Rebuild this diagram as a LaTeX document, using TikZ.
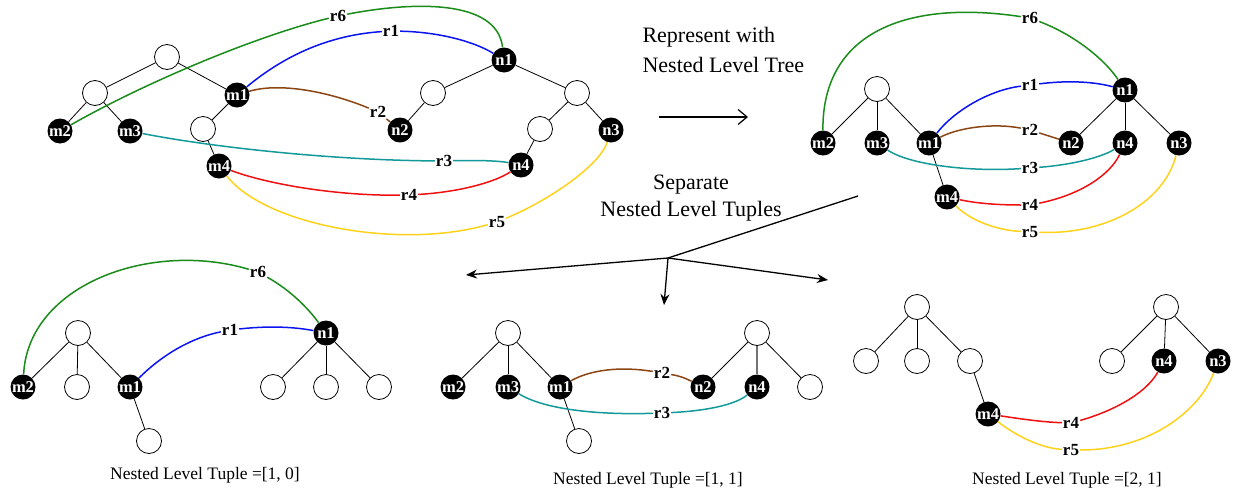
\documentclass[tikz,border=0pt]{standalone}
\usepackage{fontspec}
\setmainfont{Liberation Serif}
\usepackage{tikz}
\usepackage{xcolor}
\usetikzlibrary{arrows.meta}
\definecolor{GreenR}{HTML}{1A8C1A}
\definecolor{BlueR}{HTML}{0A14F0}
\definecolor{BrownR}{HTML}{8B4513}
\definecolor{TealR}{HTML}{14999A}
\definecolor{RedR}{HTML}{F01010}
\definecolor{GoldR}{HTML}{FFD21A}
\tikzset{
  emp/.style={circle, draw, fill=white, line width=0.8pt, minimum size=25pt,
              inner sep=0pt},
  blk/.style={circle, fill=black, text=white, minimum size=25pt, inner sep=0pt,
              font=\bfseries\fontsize{16.5}{16}\selectfont},
  edge/.style={line width=0.8pt},
  rel/.style={line width=1.5pt},
  rlab/.style={fill=white, inner sep=1pt, font=\bfseries\fontsize{17}{17}\selectfont},
  capt/.style={font=\fontsize{17.5}{20}\selectfont},
  bigtxt/.style={font=\fontsize{22}{30}\selectfont},
  openarr/.style={-{Straight Barb[length=9pt,width=15pt]}, line width=1.2pt},
  splitarr/.style={-{Stealth[length=11pt,width=9pt]}, line width=1.3pt},
}

\begin{document}
\begin{tikzpicture}[x=1pt,y=-1pt]
  \useasboundingbox (0,0) rectangle (1238,493);

  % original pair of trees
  \node[emp] (aR) at (167,57) {};
  \node[emp] (aL) at (95,93) {};
  \node[blk] (am1) at (237,95) {m1};
  \node[blk] (am2) at (60,131) {m2};
  \node[blk] (am3) at (130,131) {m3};
  \node[emp] (aE) at (203,129) {};
  \node[blk] (am4) at (219,166) {m4};
  \node[blk] (an1) at (504,60) {n1};
  \node[emp] (aE2) at (433,93) {};
  \node[emp] (aE3) at (577,93) {};
  \node[blk] (an2) at (400,130) {n2};
  \node[emp] (aE4) at (540,129) {};
  \node[blk] (an3) at (611,130) {n3};
  \node[blk] (an4) at (521,165) {n4};
  \foreach \u/\v in {aR/aL, aR/am1, aL/am2, aL/am3, am1/aE, aE/am4,
                     an1/aE2, an1/aE3, aE2/an2, aE3/aE4, aE3/an3, aE4/an4}
    \draw[edge] (\u) -- (\v);

  \node[rlab] (ar6) at (338,16) {r6};
  \node[rlab] (ar1) at (391,31) {r1};
  \node[rlab] (ar2) at (378,112) {r2};
  \node[rlab] (ar3) at (444,161) {r3};
  \node[rlab] (ar4) at (409,195) {r4};
  \node[rlab] (ar5) at (497,222) {r5};
  \draw[rel, GreenR] (am2) .. controls (150,80) and (260,35) .. (ar6);
  \draw[rel, GreenR] (ar6) .. controls (410,2) and (497,-2) .. (an1);
  \draw[rel, BlueR] (am1) .. controls (285,55) and (330,35) .. (ar1);
  \draw[rel, BlueR] (ar1) .. controls (440,32) and (475,42) .. (an1);
  \draw[rel, BrownR] (am1) .. controls (280,82) and (330,92) .. (ar2);
  \draw[rel, BrownR] (ar2) -- (an2);
  \draw[rel, TealR] (am3) .. controls (200,145) and (320,160) .. (ar3);
  \draw[rel, TealR] (ar3) .. controls (480,160) and (500,161) .. (an4);
  \draw[rel, RedR] (am4) .. controls (270,185) and (340,196) .. (ar4);
  \draw[rel, RedR] (ar4) .. controls (460,192) and (495,182) .. (an4);
  \draw[rel, GoldR] (am4) .. controls (265,225) and (400,250) .. (ar5);
  \draw[rel, GoldR] (ar5) .. controls (550,200) and (600,165) .. (an3);

  % nested level tree
  \node[bigtxt, align=left, anchor=west] (reptxt) at (639,50)
       {Represent with\\Nested Level Tree};
  \coordinate (rep0) at (659,117);
  \coordinate (rep1) at (748,117);
  \draw[openarr] (rep0) -- (rep1);

  \node[emp] (bR) at (877,89) {};
  \node[blk] (bm2) at (823,143) {m2};
  \node[blk] (bm3) at (877,143) {m3};
  \node[blk] (bm1) at (929,143) {m1};
  \node[blk] (bm4) at (947,197) {m4};
  \node[blk] (bn1) at (1125,90) {n1};
  \node[blk] (bn2) at (1071,143) {n2};
  \node[blk] (bn4) at (1125,143) {n4};
  \node[blk] (bn3) at (1179,143) {n3};
  \foreach \u/\v in {bR/bm2, bR/bm3, bR/bm1, bm1/bm4, bn1/bn2, bn1/bn4, bn1/bn3}
    \draw[edge] (\u) -- (\v);

  \node[rlab] (br6) at (1030,18) {r6};
  \node[rlab] (br1) at (1030,85) {r1};
  \node[rlab] (br2) at (1030,130) {r2};
  \node[rlab] (br3) at (1030,168) {r3};
  \node[rlab] (br4) at (1030,205) {r4};
  \node[rlab] (br5) at (1030,232) {r5};
  \draw[rel, GreenR] (bm2) .. controls (822,30) and (910,0) .. (br6);
  \draw[rel, GreenR] (br6) .. controls (1075,35) and (1105,60) .. (bn1);
  \draw[rel, BlueR] (bm1) .. controls (955,110) and (990,90) .. (br1);
  \draw[rel, BlueR] (br1) .. controls (1070,80) and (1095,82) .. (bn1);
  \draw[rel, BrownR] (bm1) .. controls (960,127) and (995,123) .. (br2);
  \draw[rel, BrownR] (br2) -- (bn2);
  \draw[rel, TealR] (bm3) .. controls (910,165) and (970,172) .. (br3);
  \draw[rel, TealR] (br3) .. controls (1070,165) and (1100,158) .. (bn4);
  \draw[rel, RedR] (bm4) .. controls (975,203) and (995,205) .. (br4);
  \draw[rel, RedR] (br4) .. controls (1080,195) and (1110,175) .. (bn4);
  \draw[rel, GoldR] (bm4) .. controls (970,220) and (995,230) .. (br5);
  \draw[rel, GoldR] (br5) .. controls (1110,235) and (1165,200) .. (bn3);

  % splitting into tuples
  \node[bigtxt, align=center, font=\fontsize{22}{27}\selectfont] (septxt) at (691,198)
       {Separate\\Nested Level Tuples};
  \coordinate (sp0) at (858,196);
  \coordinate (spc) at (668,258);
  \coordinate (spl) at (466,275);
  \coordinate (spm) at (664,305);
  \coordinate (spr) at (828,280);
  \draw[line width=1.3pt] (sp0) -- (spc);
  \draw[splitarr] (spc) -- (spl);
  \draw[splitarr] (spc) -- (spm);
  \draw[splitarr] (spc) -- (spr);

  % tuple [1, 0]
  \node[emp] (cR) at (78,333) {};
  \node[blk] (cm2) at (23,387) {m2};
  \node[emp] (cE1) at (77,387) {};
  \node[blk] (cm1) at (130,387) {m1};
  \node[emp] (cE2) at (149,441) {};
  \node[blk] (cn1) at (326,333) {n1};
  \node[emp] (cE3) at (273,387) {};
  \node[emp] (cE4) at (326,387) {};
  \node[emp] (cE5) at (379,387) {};
  \foreach \u/\v in {cR/cm2, cR/cE1, cR/cm1, cm1/cE2, cn1/cE3, cn1/cE4, cn1/cE5}
    \draw[edge] (\u) -- (\v);
  \node[rlab] (cr6) at (258,272) {r6};
  \node[rlab] (cr1) at (230,330) {r1};
  \draw[rel, GreenR] (cm2) .. controls (28,285) and (150,240) .. (cr6);
  \draw[rel, GreenR] (cr6) .. controls (290,290) and (308,308) .. (cn1);
  \draw[rel, BlueR] (cm1) .. controls (165,352) and (195,337) .. (cr1);
  \draw[rel, BlueR] (cr1) .. controls (275,325) and (300,328) .. (cn1);
  \node[capt] (ccap) at (205,475) {Nested Level Tuple =[1, 0]};

  % tuple [1, 1]
  \node[emp] (dR) at (508,333) {};
  \node[blk] (dm2) at (453,387) {m2};
  \node[blk] (dm3) at (508,387) {m3};
  \node[blk] (dm1) at (560,387) {m1};
  \node[emp] (dE) at (579,441) {};
  \node[emp] (dR2) at (757,333) {};
  \node[blk] (dn2) at (703,387) {n2};
  \node[blk] (dn4) at (757,387) {n4};
  \node[emp] (dE2) at (810,387) {};
  \foreach \u/\v in {dR/dm2, dR/dm3, dR/dm1, dm1/dE, dR2/dn2, dR2/dE2}
    \draw[edge] (\u) -- (\v);
  \draw[edge, line width=1.3pt, black!55] (dR2) -- (dn4);
  \node[rlab] (dr2) at (662,373) {r2};
  \node[rlab] (dr3) at (662,413) {r3};
  \draw[rel, BrownR] (dm1) .. controls (590,370) and (620,366) .. (dr2);
  \draw[rel, BrownR] (dr2) .. controls (680,376) and (685,378) .. (dn2);
  \draw[rel, TealR] (dm3) .. controls (545,410) and (600,415) .. (dr3);
  \draw[rel, TealR] (dr3) .. controls (705,411) and (735,405) .. (dn4);
  \node[capt] (dcap) at (648,480) {Nested Level Tuple =[1, 1]};

  % tuple [2, 1]
  \node[emp] (eR) at (917,307) {};
  \node[emp] (eE1) at (866,361) {};
  \node[emp] (eE2) at (917,361) {};
  \node[emp] (eE3) at (970,361) {};
  \node[blk] (em4) at (988,414) {m4};
  \node[emp] (eR2) at (1166,307) {};
  \node[emp] (eE4) at (1112,361) {};
  \node[blk] (en4) at (1164,361) {n4};
  \node[blk] (en3) at (1218,361) {n3};
  \foreach \u/\v in {eR/eE1, eR/eE2, eR/eE3, eE3/em4, eR2/eE4, eR2/en4, eR2/en3}
    \draw[edge] (\u) -- (\v);
  \node[rlab] (er4) at (1071,423) {r4};
  \node[rlab] (er5) at (1071,450) {r5};
  \draw[rel, RedR] (em4) .. controls (1015,418) and (1040,422) .. (er4);
  \draw[rel, RedR] (er4) .. controls (1110,412) and (1145,395) .. (en4);
  \draw[rel, GoldR] (em4) .. controls (1015,435) and (1040,448) .. (er5);
  \draw[rel, GoldR] (er5) .. controls (1150,450) and (1200,410) .. (en3);
  \node[capt] (ecap) at (1067,480) {Nested Level Tuple =[2, 1]};
\end{tikzpicture}
\end{document}
